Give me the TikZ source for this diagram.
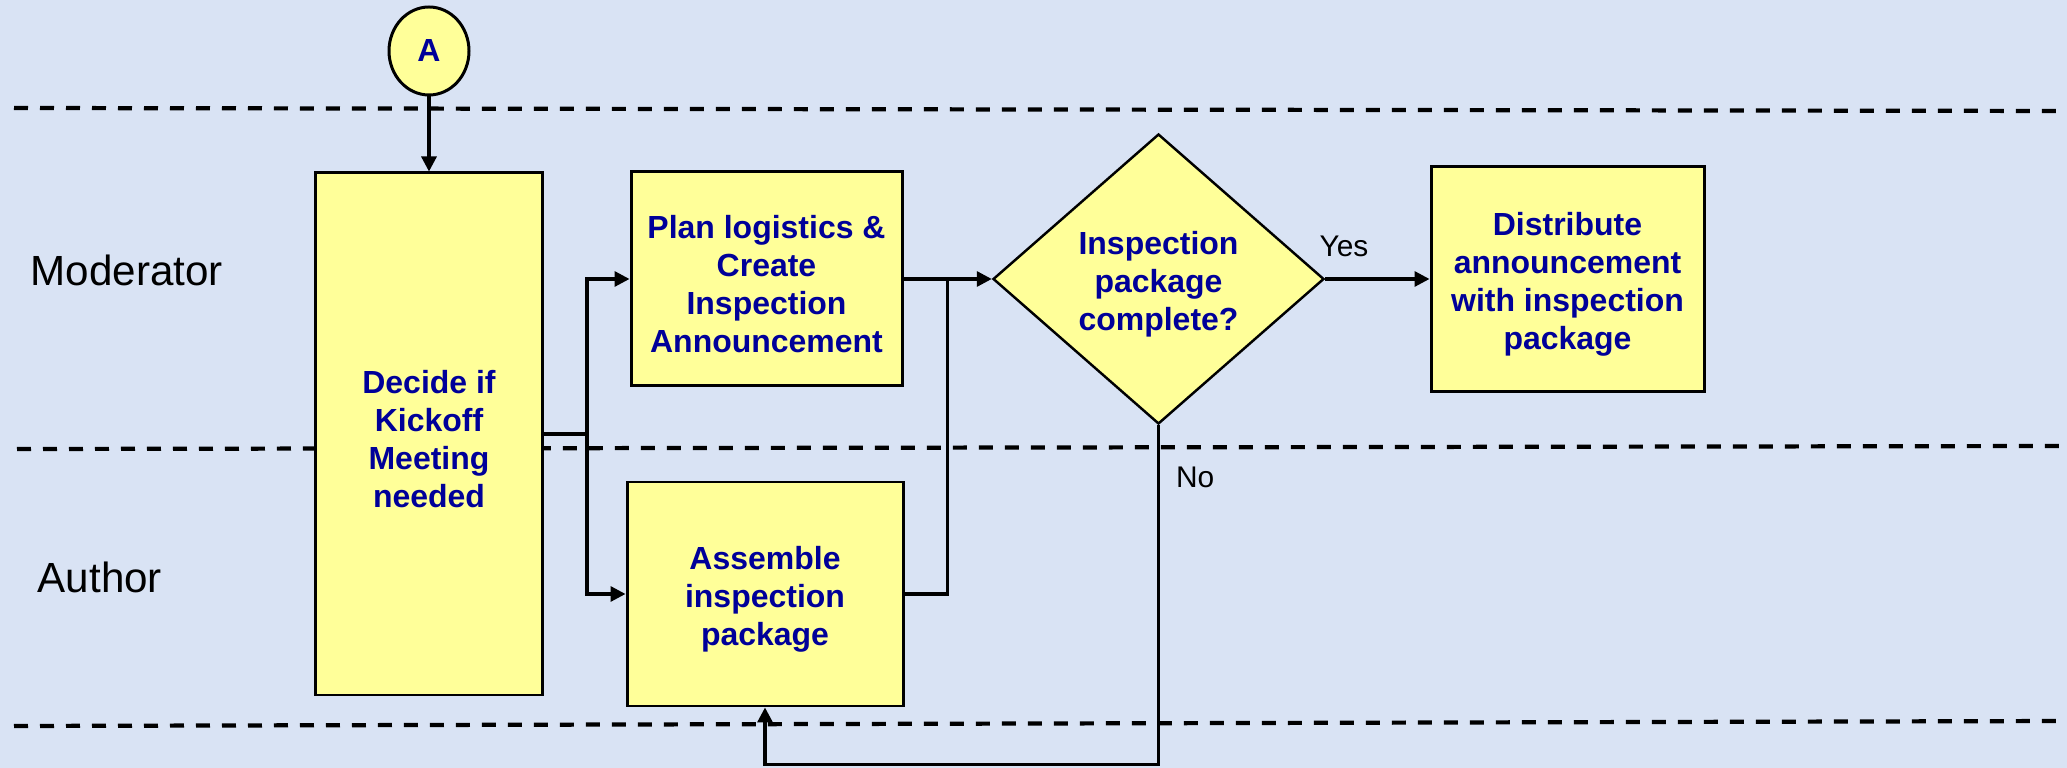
\documentclass[tikz,border=0pt]{standalone}
\usepackage{fontspec}
\setmainfont{Liberation Sans}
\usepackage{tikz}
\usetikzlibrary{arrows.meta,calc,shapes.geometric}
\usepackage{xcolor}
\definecolor{lanebg}{RGB}{217,227,244}
\definecolor{boxyellow}{RGB}{255,255,153}
\definecolor{boxnavy}{RGB}{0,0,153}
\newcommand{\boxfont}{\fontsize{9.1}{10.8}\selectfont\bfseries}

\begin{document}
\begin{tikzpicture}[
  fourlines/.style={text height=41.8pt},
  threelines/.style={text height=31pt},
  procbox/.style={rectangle, draw=black, line width=0.85pt, fill=boxyellow,
    text=boxnavy, font=\boxfont, align=center, inner sep=0pt},
  decision/.style={diamond, draw=black, line width=0.7pt, fill=boxyellow,
    text=boxnavy, font=\boxfont, align=center, inner sep=0pt,
    minimum width=3.31cm, minimum height=2.90cm},
  offpage/.style={ellipse, draw=black, line width=0.85pt, fill=boxyellow,
    text=boxnavy, font=\boxfont, inner sep=0pt,
    minimum width=0.80cm, minimum height=0.88cm},
  plainline/.style={draw=black, line width=0.9pt},
  flowline/.style={plainline, -{Triangle[length=0.15cm,width=0.15cm]}},
  lanerule/.style={black, line width=1.2pt, dash pattern=on 0.14cm off 0.12cm},
  lanelabel/.style={font=\fontsize{12}{14}\selectfont, anchor=west, inner sep=0pt},
  branchlabel/.style={font=\fontsize{8.5}{10}\selectfont, inner sep=0pt}
]
  \def\picw{20.67}
  \def\pich{7.68}

  % Fundo
  \useasboundingbox (0,0) rectangle (\picw,\pich);
  \fill[lanebg] (0,0) rectangle (\picw,\pich);

  % Swimlane separators
  \draw[lanerule] (0.14,6.60) -- (\picw,6.57);
  \draw[lanerule] (0.17,3.19) -- (\picw,3.22);
  \draw[lanerule] (0.14,0.42) -- (\picw,0.47);

  % Lane names
  \node[lanelabel] (lmod) at (0.30,4.98) {Moderator};
  \node[lanelabel] (lauth) at (0.37,1.91) {Author};

  % Steps
  \node[offpage] (conA) at (4.29,7.17) {A};
  \node[procbox, fourlines, minimum width=2.27cm, minimum height=5.22cm] (decide) at (4.29,3.34)
    {Decide if\\Kickoff\\Meeting\\needed};
  \node[procbox, fourlines, minimum width=2.71cm, minimum height=2.14cm] (plan) at (7.665,4.89)
    {Plan logistics \&\\Create\\Inspection\\Announcement};
  \node[procbox, threelines, minimum width=2.76cm, minimum height=2.24cm] (assemble) at (7.65,1.74)
    {Assemble\\inspection\\package};
  \node[decision, threelines] (check) at (11.585,4.89)
    {Inspection\\package\\complete?};
  \node[procbox, fourlines, minimum width=2.73cm, minimum height=2.25cm] (distribute) at (15.675,4.89)
    {Distribute\\announcement\\with inspection\\package};

  % Connectors
  \coordinate (split) at ($(decide.east)+(0.43,0)$);
  \coordinate (merge) at ($(plan.east)!0.5!(check.west)$);

  \draw[flowline] (conA) -- (decide);
  \draw[plainline] (decide.east) -- (split);
  \draw[flowline] (split) |- (plan.west);
  \draw[flowline] (split) |- (assemble.west);
  \draw[flowline] (plan.east) -- (check.west);
  \draw[plainline] (assemble.east) -| (merge);

  % Yes / No branches
  \draw[flowline] (check.east)
    -- node[branchlabel, above=0.21cm, pos=0.18] (yes) {Yes} (distribute.west);
  \draw[flowline] (check.south)
    -- node[branchlabel, right=0.16cm, pos=0.153] (no) {No} ++(0,-3.39)
    -| (assemble.south);

\end{tikzpicture}
\end{document}
